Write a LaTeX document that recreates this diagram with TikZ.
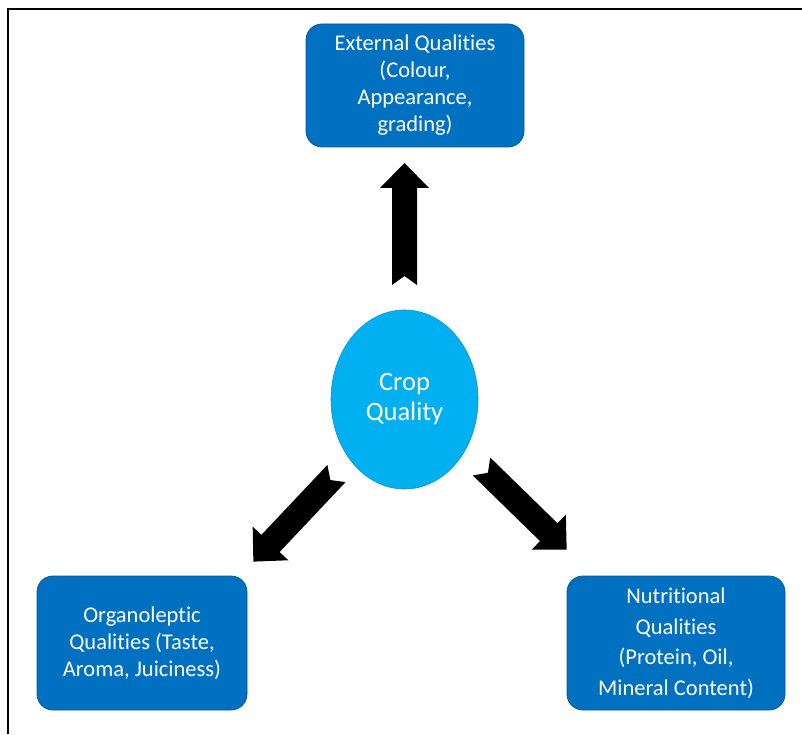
\documentclass[tikz,border=0pt]{standalone}
\usepackage{fontspec}
\setmainfont{Carlito}[Ligatures=NoCommon]
\usetikzlibrary{calc,shapes.geometric}

\definecolor{boxblue}{HTML}{0070C0}
\definecolor{cropblue}{HTML}{00B0F0}

\tikzset{
  qualbox/.style={rectangle, rounded corners=16pt, fill=boxblue, draw=boxblue!80!black,
    line width=0.8pt, text=white, align=center, inner sep=0pt,
    font=\fontsize{22.5}{27}\selectfont},
  pics/fatarrow/.style={code={
    \fill[black] (0pt,-12.5pt) -- ({#1-25pt},-12.5pt) -- ({#1-25pt},-24.5pt) -- (#1,0pt)
      -- ({#1-25pt},24.5pt) -- ({#1-25pt},12.5pt) -- (0pt,12.5pt) -- (9pt,0pt) -- cycle;
  }}
}

% block arrow from tail #1 to tip #2
\newcommand{\fatarrow}[2]{%
  \path let \p1=($(#2)-(#1)$), \n1={atan2(\y1,\x1)}, \n2={veclen(\x1,\y1)} in
    pic[rotate=\n1] at (#1) {fatarrow=\n2};}

\begin{document}
\begin{tikzpicture}[x=1pt,y=1pt]
    \useasboundingbox (0,0) rectangle (802,734);
    \draw[line width=1.5pt] (8,0) -- (8,725) -- (802,725);

    \node[qualbox, minimum width=218, minimum height=123] (ext) at (415,648.5)
        {External Qualities\\(Colour,\\Appearance,\\grading)};
    \node[ellipse, fill=cropblue, draw=cropblue!85!black, line width=0.6pt,
          minimum width=147, minimum height=179, inner sep=0pt, text=white,
          align=center, font=\fontsize{26.5}{30}\selectfont] (crop) at (404.5,334.5)
        {Crop\\Quality};
    \node[qualbox, minimum width=210, minimum height=134] (org) at (142,91)
        {Organoleptic\\Qualities (Taste,\\Aroma, Juiciness)};
    \node[qualbox, minimum width=218, minimum height=134,
          font=\fontsize{22.5}{30.5}\selectfont] (nut) at (676,91)
        {Nutritional\\Qualities\\(Protein, Oil,\\Mineral Content)};

    \coordinate (upTail) at (404.5,449);
    \coordinate (upTip) at (404.5,571);
    \coordinate (leftTail) at (336.5,260.5);
    \coordinate (leftTip) at (253,172);
    \coordinate (rightTail) at (481.5,267.5);
    \coordinate (rightTip) at (567,184);

    \fatarrow{upTail}{upTip}
    \fatarrow{leftTail}{leftTip}
    \fatarrow{rightTail}{rightTip}
\end{tikzpicture}
\end{document}
